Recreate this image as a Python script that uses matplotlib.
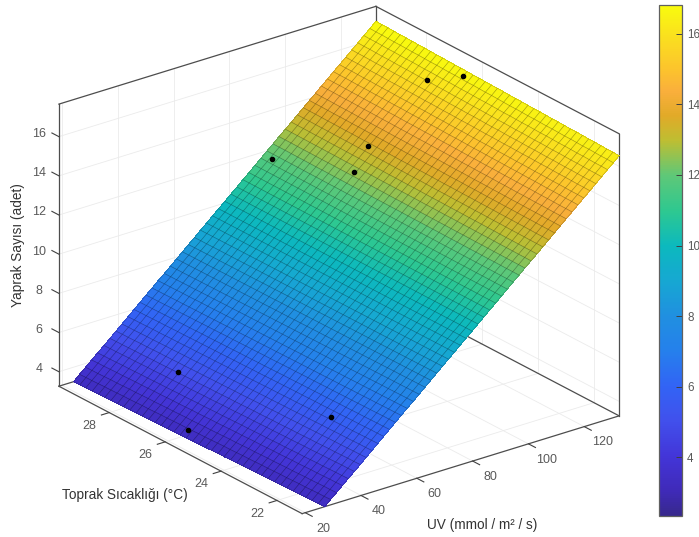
import matplotlib
matplotlib.use('Agg')
import numpy as np
import matplotlib.pyplot as plt
from matplotlib.colors import LinearSegmentedColormap, Normalize
from matplotlib.cm import ScalarMappable
from mpl_toolkits.mplot3d import proj3d

plt.rcParams['font.family'] = ['Liberation Sans', 'DejaVu Sans']

# grid of the fitted surface
uv_grid = [27.0, 29.1, 31.2, 33.3, 35.4, 37.6, 39.7, 41.8, 43.9, 46.0, 48.1, 50.2, 52.3, 54.4, 56.5, 58.7, 60.8,
           62.9, 65.0, 67.1, 69.2, 71.3, 73.4, 75.5, 77.6, 79.8, 81.9, 84.0, 86.1, 88.2, 90.3, 92.4, 94.5, 96.6,
           98.7, 100.9, 103.0, 105.1, 107.2, 109.3, 111.4, 113.5, 115.6, 117.7, 119.8, 122.0, 124.1, 126.2,
           128.3, 130.4, 132.5]
leaf_by_uv = [3.26, 3.53, 3.79, 4.06, 4.32, 4.59, 4.85, 5.12, 5.38, 5.65, 5.92, 6.18, 6.45, 6.71, 6.98, 7.24, 7.51,
              7.78, 8.04, 8.31, 8.57, 8.84, 9.10, 9.37, 9.63, 9.90, 10.17, 10.43, 10.70, 10.96, 11.23, 11.49, 11.76,
              12.02, 12.29, 12.56, 12.82, 13.09, 13.35, 13.62, 13.88, 14.15, 14.41, 14.68, 14.94, 15.21, 15.48,
              15.74, 16.01, 16.27, 16.54]
temp_grid = [21.1, 21.32, 21.54, 21.75, 21.97, 22.19, 22.41, 22.62, 22.84, 23.06, 23.28, 23.49, 23.71, 23.93, 24.15,
             24.36, 24.58, 24.80, 25.02, 25.23, 25.45, 25.67, 25.89, 26.10, 26.32, 26.54, 26.76, 26.97, 27.19, 27.41,
             27.63, 27.84, 28.06, 28.28, 28.50, 28.71, 28.93, 29.15, 29.37, 29.58, 29.8]
spread_by_temp = [1.000, 1.001, 1.001, 1.002, 1.003, 1.003, 1.004, 1.005, 1.005, 1.006, 1.007, 1.007, 1.008, 1.009,
                  1.009, 1.010, 1.011, 1.011, 1.012, 1.013, 1.014, 1.014, 1.015, 1.016, 1.016, 1.017, 1.018, 1.018,
                  1.019, 1.020, 1.020, 1.021, 1.022, 1.022, 1.023, 1.024, 1.024, 1.025, 1.026, 1.026, 1.027]

# measured points
point_uv = [131.1, 126.0, 106.1, 99.2, 93.0, 38.9, 28.0, 46.3]
point_temp = [26.54, 27.34, 27.46, 27.27, 29.56, 27.52, 26.08, 22.8]
point_leaf = [16.62, 16.0, 13.44, 12.55, 11.8, 4.8, 3.41, 5.72]

uv_ticks = [20, 40, 60, 80, 100, 120]
temp_ticks = [22, 24, 26, 28]
leaf_ticks = [4, 6, 8, 10, 12, 14, 16]
cbar_ticks = [4, 6, 8, 10, 12, 14, 16]

uv_lim = (18.9, 132.5)
temp_lim = (21.1, 29.8)
leaf_lim = (3.26, 17.66)
color_lim = (2.33, 16.82)

cmap_values = [2.33, 3, 4, 5, 6, 7, 8, 9, 10, 11, 12, 13, 13.7, 14.4, 15, 16, 16.82]
cmap_colors = ['#37288c', '#3f2ab8', '#4335d8', '#4150ec', '#3264f5', '#2580ec', '#2090e0', '#16a8d2', '#0cb9be',
               '#2ec890', '#5ec878', '#bebe32', '#e1aa28', '#faaf3c', '#fcc32d', '#fae11e', '#f9fb0e']

norm = Normalize(*color_lim)
cmap = LinearSegmentedColormap.from_list('leaf', [(norm(v), c) for v, c in zip(cmap_values, cmap_colors)])

W, H = 699, 537
fig = plt.figure(figsize=(W / 100, H / 100), dpi=100)
S = 800
ax = fig.add_axes([-71.8 / W, -133.8 / H, S / W, S / H], projection='3d', computed_zorder=False)
ax.set_proj_type('ortho')
ax.view_init(elev=23.7, azim=-127.5)
ax.set_box_aspect((1, 1, 0.771), zoom=0.781)
ax.set_xlim(*uv_lim)
ax.set_ylim(*temp_lim)
ax.set_zlim(*leaf_lim)
ax.set_xticks([])
ax.set_yticks([])
ax.set_zticks([])
ax.set_axis_off()


def label3d(x, y, z, s, **kw):
    # flat text placed at the projected position
    px, py, _ = proj3d.proj_transform(x, y, z, ax.get_proj())
    ax.text2D(px, py, s, transform=ax.transData, ha='center', va='center', **kw)


# grid on the floor and the two back walls
gridc = '#ebebeb'
u0, u1 = uv_lim
t0, t1 = temp_lim
z0, z1 = leaf_lim
for u in uv_ticks:
    ax.plot([u, u], [t0, t1], [z0, z0], color=gridc, lw=0.6, zorder=1)
    ax.plot([u, u], [t1, t1], [z0, z1], color=gridc, lw=0.6, zorder=1)
for t in temp_ticks:
    ax.plot([u0, u1], [t, t], [z0, z0], color=gridc, lw=0.6, zorder=1)
    ax.plot([u1, u1], [t, t], [z0, z1], color=gridc, lw=0.6, zorder=1)
for z in leaf_ticks:
    ax.plot([u0, u1], [t1, t1], [z, z], color=gridc, lw=0.6, zorder=1)
    ax.plot([u1, u1], [t0, t1], [z, z], color=gridc, lw=0.6, zorder=1)

# box edges
boxc = '#4d4d4d'
edges = [([u0, u1], [t1, t1], [z1, z1]), ([u1, u1], [t0, t1], [z1, z1]),
         ([u0, u0], [t1, t1], [z0, z1]), ([u1, u1], [t0, t0], [z0, z1]), ([u1, u1], [t1, t1], [z0, z1]),
         ([u0, u1], [t0, t0], [z0, z0]), ([u0, u0], [t0, t1], [z0, z0]),
         ([u0, u1], [t1, t1], [z0, z0]), ([u1, u1], [t0, t1], [z0, z0])]
for xs, ys, zs in edges:
    ax.plot(xs, ys, zs, color=boxc, lw=0.9, zorder=1.5)

# surface, first pass closes the seams, second pass draws the mesh
uv_arr = np.array(uv_grid)
temp_arr = np.array(temp_grid)
spread = np.array(spread_by_temp)
leaf_arr = np.array(leaf_by_uv)
X = u1 - np.outer(spread, u1 - uv_arr)
Y = np.outer(temp_arr, np.ones(len(uv_arr)))
Z = z0 + np.outer(spread, leaf_arr - z0)
ax.plot_surface(X, Y, Z, rstride=1, cstride=1, cmap=cmap, norm=norm, shade=False,
                linewidth=0, antialiased=False, zorder=2)
ax.plot_surface(X, Y, Z, rstride=1, cstride=1, cmap=cmap, norm=norm, shade=False,
                edgecolor=(0, 0, 0, 0.22), linewidth=0.5, antialiased=True, zorder=3)

ax.plot(point_uv, point_temp, point_leaf, 'o', color='black', ms=3.0, zorder=5)

# ticks and tick labels
tickc = '#404040'
labelc = '#595959'
fs = 9
for u in uv_ticks:
    ax.plot([u, u], [t0, t0 - 0.25], [z0, z0], color=tickc, lw=0.8, zorder=1.5)
    label3d(u, 20.46, 2.93, str(u), color=labelc, fontsize=fs)
for t in temp_ticks:
    ax.plot([u0, u0 - 2.8], [t, t], [z0, z0], color=tickc, lw=0.8, zorder=1.5)
    label3d(11.7, t, 2.91, str(t), color=labelc, fontsize=fs)
for z in leaf_ticks:
    ax.plot([u0, u0], [t1, t1 + 0.25], [z, z], color=tickc, lw=0.8, zorder=1.5)
    label3d(u0, 30.51, z - 0.4, str(z), color=labelc, fontsize=fs)

lab = '#333333'
fig.text(482.5 / W, 1 - 525 / H, 'UV (mmol / m² / s)', color=lab, fontsize=9.8, ha='center', va='center')
fig.text(125 / W, 1 - 495 / H, 'Toprak Sıcaklığı (°C)', color=lab, fontsize=9.8, ha='center', va='center')
fig.text(18 / W, 1 - 245 / H, 'Yaprak Sayısı (adet)', color=lab, fontsize=9.8, ha='center', va='center',
         rotation=90)

# colorbar
cax = fig.add_axes([658.5 / W, 1 - 516 / H, 23.8 / W, 511 / H])
cb = fig.colorbar(ScalarMappable(norm=norm, cmap=cmap), cax=cax, ticks=cbar_ticks)
cb.ax.tick_params(direction='in', length=4, width=0.7, color='#404040', labelcolor=labelc, labelsize=8.4, pad=3.5)
cb.outline.set_edgecolor('#606060')
cb.outline.set_linewidth(0.9)

fig.savefig('out.png', dpi=100)
